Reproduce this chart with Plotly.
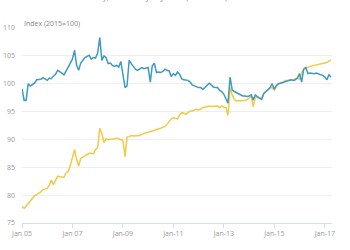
import plotly.graph_objects as go
import pandas as pd

dates = pd.date_range("2005-01-01", periods=148, freq="MS")

blue_series = [
    99.1, 97.0, 97.0, 100.0, 99.6, 99.8, 100.1, 100.7, 100.7, 100.8, 101.1, 100.9,
    100.6, 101.0, 100.9, 101.4, 101.7, 102.4, 102.2, 101.9, 101.6, 102.3, 102.8, 103.6,
    104.4, 106.0, 103.4, 102.4, 103.7, 104.2, 104.7, 104.9, 105.1, 104.4, 104.7, 104.6,
    105.5, 108.3, 104.2, 105.0, 104.7, 103.6, 103.7, 103.3, 103.1, 103.3, 103.0, 104.0,
    101.4, 99.3, 99.6, 104.2, 103.6, 103.0, 102.6, 102.4, 102.6, 102.9, 102.7, 102.8,
    102.9, 100.3, 103.2, 103.7, 102.0, 102.1, 102.0, 102.2, 102.6, 102.4, 102.3, 101.3,
    101.8, 101.5, 102.1, 101.7, 100.9, 100.7, 100.6, 100.6, 100.3, 99.8, 99.6, 99.4,
    99.3, 99.3, 99.0, 99.3, 99.8, 100.1, 99.8, 99.4, 99.3, 99.3, 98.8, 98.6,
    98.1, 97.4, 96.5, 101.2, 98.9, 98.6, 98.4, 98.2, 98.0, 97.8, 97.8, 97.7,
    97.8, 98.0, 97.1, 98.0, 97.7, 97.5, 97.2, 98.2, 98.6, 98.8, 99.3, 100.0,
    99.0, 99.7, 100.0, 100.1, 100.2, 100.3, 100.4, 100.6, 100.7, 100.6, 100.7, 101.0,
    101.8, 100.3, 102.6, 102.9, 101.8, 101.9, 101.8, 101.8, 101.9, 101.7, 101.6, 101.5,
    101.2, 100.7, 101.6, 101.2,
]

yellow_series = [
    78.0, 77.6, 78.0, 78.5, 78.9, 79.3, 79.9, 80.1, 80.3, 80.6, 81.0, 81.1,
    81.2, 81.8, 82.7, 81.9, 82.8, 83.4, 83.3, 83.3, 83.2, 84.0, 84.3, 85.3,
    86.8, 88.2, 86.5, 85.2, 86.6, 86.9, 87.1, 87.3, 87.5, 87.5, 87.4, 88.2,
    88.5, 92.0, 91.1, 89.4, 90.1, 90.0, 90.0, 90.0, 90.1, 90.25, 90.1, 90.0,
    89.8, 86.9, 90.4, 90.5, 90.7, 90.6, 90.6, 90.7, 90.7, 90.9, 91.1, 91.2,
    91.3, 91.4, 91.5, 91.6, 91.7, 91.8, 92.0, 92.2, 92.3, 92.7, 93.2, 93.7,
    93.9, 93.8, 93.7, 94.4, 94.8, 94.7, 94.5, 94.8, 95.1, 95.1, 95.2, 95.4,
    95.3, 95.4, 95.7, 95.8, 95.8, 96.0, 95.9, 95.9, 96.0, 96.0, 95.7, 96.0,
    95.8, 95.7, 94.3, 99.3, 98.0, 97.2, 96.9, 96.9, 96.9, 96.9, 97.0, 97.1,
    97.5, 97.8, 95.9, 97.6, 97.5, 97.4, 97.3, 98.3, 98.6, 98.8, 99.2, 99.3,
    98.9, 99.7, 100.0, 100.2, 100.2, 100.5, 100.6, 100.7, 100.7, 100.6, 100.9, 101.0,
    100.8, 102.0, 102.6, 102.8, 103.0, 103.1, 103.2, 103.3, 103.4, 103.5, 103.6, 103.6,
    103.7, 103.8, 104.1, 104.2,
]

x_tick_vals = ["2005-01-01", "2007-01-01", "2009-01-01", "2011-01-01",
               "2013-01-01", "2015-01-01", "2017-01-01"]
x_tick_text = ["Jan 05", "Jan 07", "Jan-09", "Jan-11", "Jan-13", "Jan-15", "Jan-17"]
y_tick_vals = [75, 80, 85, 90, 95, 100, 105, 110]

BLUE = "#3d9bc3"
YELLOW = "#f1ca46"
FONT = "Open Sans"

fig = go.Figure()
fig.add_trace(go.Scatter(x=dates, y=yellow_series, mode="lines",
                         line=dict(color=YELLOW, width=1.5), showlegend=False))
fig.add_trace(go.Scatter(x=dates, y=blue_series, mode="lines",
                         line=dict(color=BLUE, width=1.5), showlegend=False))

fig.update_layout(
    width=350, height=250,
    margin=dict(l=22, r=18, t=28, b=27),
    paper_bgcolor="white", plot_bgcolor="white",
    font=dict(family=FONT, size=7, color="#999999"),
    xaxis=dict(
        range=["2005-01-01", "2017-04-15"],
        tickvals=x_tick_vals, ticktext=x_tick_text,
        showgrid=False, showline=True, linecolor="#cfe0ef", linewidth=1,
        ticks="outside", ticklen=4, tickcolor="#cfe0ef", tickwidth=1,
        tickfont=dict(size=7, color="#999999"), zeroline=False,
        automargin=False,
    ),
    yaxis=dict(
        range=[75, 110], tickvals=y_tick_vals,
        showgrid=True, gridcolor="#eeeeee", gridwidth=1,
        showline=False, zeroline=False, ticks="", ticklen=0,
        ticklabelstandoff=6, automargin=False,
        tickfont=dict(size=7, color="#999999"),
    ),
    annotations=[
        dict(text="Index (2015=100)", xref="paper", yref="paper",
             x=0, y=1.024, xanchor="left", yanchor="middle", showarrow=False,
             font=dict(size=7, color="#888888", family=FONT)),
        dict(text="Monthly, seasonally adjusted (2015=100)", xref="paper", yref="paper",
             x=0.42, y=1.125, xanchor="center", yanchor="bottom", showarrow=False,
             font=dict(size=8, color="#888888", family=FONT)),
    ],
)

fig.write_html("out.html")
